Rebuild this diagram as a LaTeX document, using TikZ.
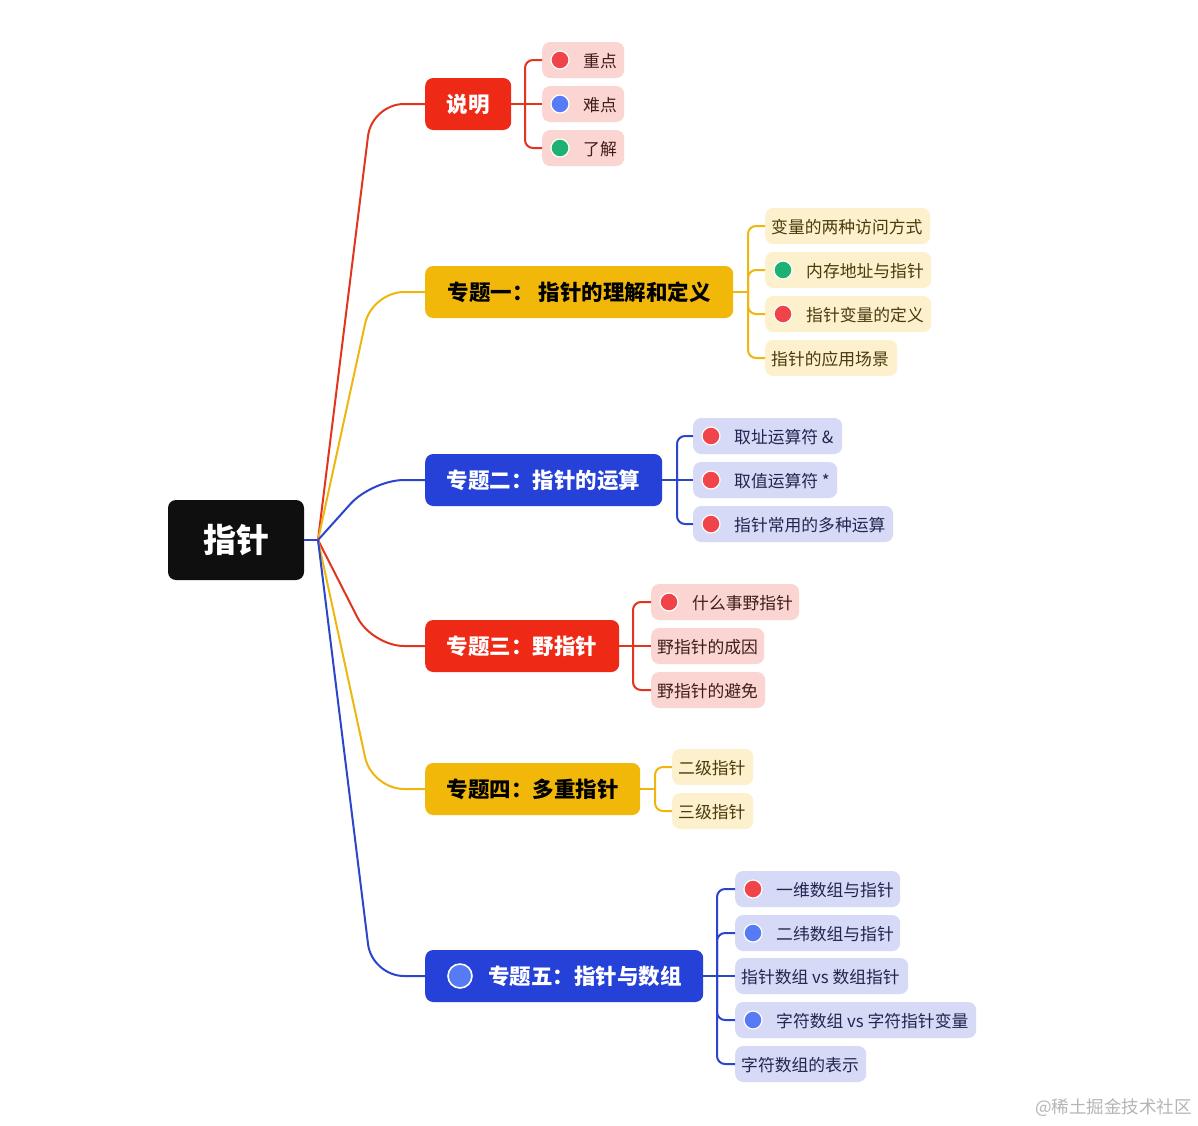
\documentclass[tikz,border=0pt]{standalone}
\usepackage{fontspec}
\setmainfont{Noto Sans CJK SC}[BoldFont={Noto Sans CJK SC Bold}]
\newfontfamily\heavyfont{Noto Sans CJK SC Black}
\definecolor{rtopic}{HTML}{EE2A16}
\definecolor{ytopic}{HTML}{F1B80A}
\definecolor{btopic}{HTML}{2541D7}
\definecolor{rootc}{HTML}{0F0F0F}
\definecolor{rline}{HTML}{E2341F}
\definecolor{yline}{HTML}{EEB60F}
\definecolor{bline}{HTML}{2B45CB}
\definecolor{rfill}{HTML}{FBD5D2}
\definecolor{yfill}{HTML}{FCF0CD}
\definecolor{bfill}{HTML}{D6DAF6}
\definecolor{rtext}{HTML}{3E1D1A}
\definecolor{ytext}{HTML}{4A3A0C}
\definecolor{btext}{HTML}{20264F}
\definecolor{dotred}{HTML}{F1444A}
\definecolor{dotblue}{HTML}{577BF5}
\definecolor{dotgreen}{HTML}{1DB173}
\definecolor{wmark}{HTML}{B5B5B5}
\tikzset{
  rootbox/.style={rounded corners=8pt, fill=rootc, text=white, minimum width=136pt, minimum height=80pt, inner sep=0pt, font=\heavyfont\fontsize{33}{36}\selectfont},
  topicbox/.style={rounded corners=8pt, minimum height=52pt, inner sep=0pt, anchor=west, font=\heavyfont\fontsize{21.5}{24}\selectfont},
  topictext/.style={anchor=west, inner sep=0pt, font=\heavyfont\fontsize{21.5}{24}\selectfont},
  leafbox/.style={rounded corners=8pt, minimum height=36pt, inner sep=0pt, anchor=west},
  leaftext/.style={anchor=west, inner sep=0pt, font=\fontsize{16.8}{20}\selectfont},
  dotmark/.style={circle, minimum size=18pt, inner sep=0pt, draw=white, line width=1.2pt},
  branch/.style={line width=2pt, rounded corners=32pt},
  twig/.style={line width=2pt, rounded corners=8pt}
}
\newcommand{\mmleafdot}[7]{%
  \node[leafbox, fill=#5fill, minimum width=#4] (#1) at (#2,#3) {};
  \node[dotmark, fill=#6] (#1d) at (#2+18,#3) {};
  \node[leaftext, text=#5text] (#1t) at (#2+41,#3+1) {#7};
}
\newcommand{\mmleafplain}[6]{%
  \node[leafbox, fill=#5fill, minimum width=#4] (#1) at (#2,#3) {};
  \node[leaftext, text=#5text] (#1t) at (#2+6,#3+1) {#6};
}
\begin{document}
\begin{tikzpicture}[x=1pt,y=-1pt]
\useasboundingbox (0,0) rectangle (1198,1125);
\fill[white] (0,0) rectangle (1198,1125);

% root
\node[rootbox] (root) at (236,540) {指针};
\coordinate (J) at (318,540);

% topics
\node[topicbox, fill=rtopic, text=white, minimum width=86] (t0) at (425,104) {说明};
\node[topicbox, fill=ytopic, text=black, minimum width=308] (t1) at (425,292) {专题一：\hspace{5pt}指针的理解和定义};
\node[topicbox, fill=btopic, text=white, minimum width=237] (t2) at (425,480) {专题二：指针的运算};
\node[topicbox, fill=rtopic, text=white, minimum width=194] (t3) at (425,646) {专题三：野指针};
\node[topicbox, fill=ytopic, text=black, minimum width=215] (t4) at (425,789) {专题四：多重指针};
\node[topicbox, fill=btopic, minimum width=278] (t5) at (425,976) {};
\node[dotmark, fill=dotblue, minimum size=24pt, line width=1.6pt] (t5d) at (460,976) {};
\node[topictext, text=white] (t5t) at (488,976) {专题五：指针与数组};

% main branches
\draw[branch, rline] (J) -- (372,104) -- (t0.west);
\draw[branch, yline] (J) -- (372,292) -- (t1.west);
\draw[branch, bline] (J) -- (372,480) -- (t2.west);
\draw[branch, rline] (J) -- (372,646) -- (t3.west);
\draw[branch, yline] (J) -- (372,789) -- (t4.west);
\draw[branch, bline] (J) -- (372,976) -- (t5.west);
\draw[line width=2pt, bline] (root.east) -- (J);

% spine coordinates
\coordinate (s0) at (525,104);
\coordinate (s1) at (748,292);
\coordinate (s2) at (677,480);
\coordinate (s3) at (633,646);
\coordinate (s4) at (655,789);
\coordinate (s5) at (717,976);

% leaves
\mmleafdot{a1}{542}{60}{82}{r}{dotred}{重点}
\mmleafdot{a2}{542}{104}{82}{r}{dotblue}{难点}
\mmleafdot{a3}{542}{148}{82}{r}{dotgreen}{了解}

\mmleafplain{b1}{765}{226}{165}{y}{变量的两种访问方式}
\mmleafdot{b2}{765}{270}{166}{y}{dotgreen}{内存地址与指针}
\mmleafdot{b3}{765}{314}{166}{y}{dotred}{指针变量的定义}
\mmleafplain{b4}{765}{358}{132}{y}{指针的应用场景}

\mmleafdot{c1}{693}{436}{149}{b}{dotred}{取址运算符 \&}
\mmleafdot{c2}{693}{480}{144}{b}{dotred}{取值运算符 *}
\mmleafdot{c3}{693}{524}{200}{b}{dotred}{指针常用的多种运算}

\mmleafdot{d1}{651}{602}{148}{r}{dotred}{什么事野指针}
\mmleafplain{d2}{651}{646}{113}{r}{野指针的成因}
\mmleafplain{d3}{651}{690}{114}{r}{野指针的避免}

\mmleafplain{e1}{672}{767}{81}{y}{二级指针}
\mmleafplain{e2}{672}{811}{81}{y}{三级指针}

\mmleafdot{f1}{735}{889}{165}{b}{dotred}{一维数组与指针}
\mmleafdot{f2}{735}{933}{165}{b}{dotblue}{二纬数组与指针}
\mmleafplain{f3}{735}{976}{173}{b}{指针数组 vs 数组指针}
\mmleafdot{f4}{735}{1020}{241}{b}{dotblue}{字符数组 vs 字符指针变量}
\mmleafplain{f5}{735}{1064}{131}{b}{字符数组的表示}

% twigs
\draw[twig, rline] (t0.east) -- (s0);
\draw[twig, rline] (s0) |- (a1.west);
\draw[twig, rline] (s0) -- (a2.west);
\draw[twig, rline] (s0) |- (a3.west);

\draw[twig, yline] (t1.east) -- (s1);
\draw[twig, yline] (s1) |- (b1.west);
\draw[twig, yline] (s1) |- (b2.west);
\draw[twig, yline] (s1) |- (b3.west);
\draw[twig, yline] (s1) |- (b4.west);

\draw[twig, bline] (t2.east) -- (s2);
\draw[twig, bline] (s2) |- (c1.west);
\draw[twig, bline] (s2) -- (c2.west);
\draw[twig, bline] (s2) |- (c3.west);

\draw[twig, rline] (t3.east) -- (s3);
\draw[twig, rline] (s3) |- (d1.west);
\draw[twig, rline] (s3) -- (d2.west);
\draw[twig, rline] (s3) |- (d3.west);

\draw[twig, yline] (t4.east) -- (s4);
\draw[twig, yline] (s4) |- (e1.west);
\draw[twig, yline] (s4) |- (e2.west);

\draw[twig, bline] (t5.east) -- (s5);
\draw[twig, bline] (s5) |- (f1.west);
\draw[twig, bline] (s5) |- (f2.west);
\draw[twig, bline] (s5) -- (f3.west);
\draw[twig, bline] (s5) |- (f4.west);
\draw[twig, bline] (s5) |- (f5.west);

% watermark
\node[anchor=east, inner sep=0pt, text=wmark, font=\fontsize{17.5}{20}\selectfont] (wm) at (1192,1108) {@稀土掘金技术社区};
\end{tikzpicture}
\end{document}
